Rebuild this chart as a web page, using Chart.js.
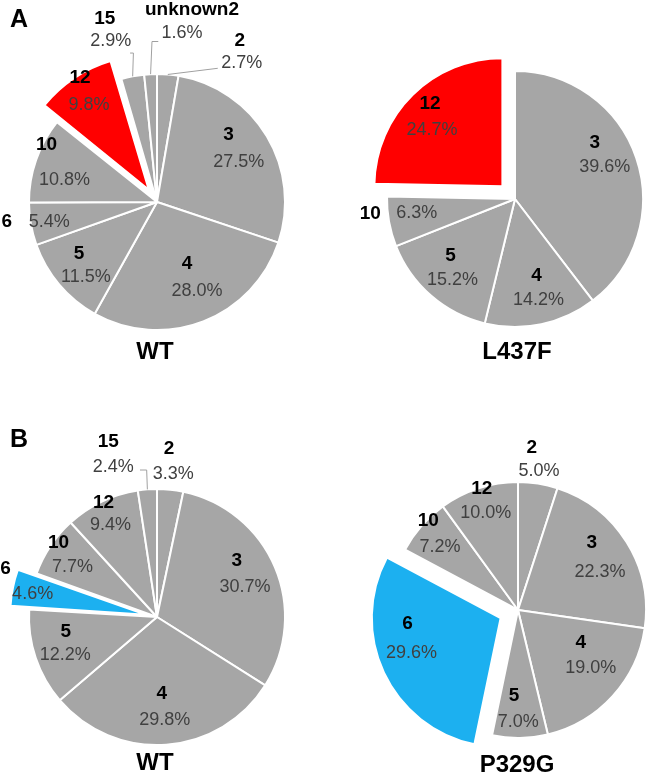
<!DOCTYPE html>
<html>
<head>
<meta charset="utf-8">
<script src="https://cdn.jsdelivr.net/npm/chart.js@4.4.1/dist/chart.umd.min.js"></script>
<style>
  html, body { margin: 0; padding: 0; background: #fff; }
  #wrap { position: relative; width: 647px; height: 778px; overflow: hidden; }
  #wrap canvas { position: absolute; left: 0; top: 0; }
  .panel { position: absolute; font: bold 25px "Liberation Sans", Arial, sans-serif; color: #000; line-height: 1; transform: translate(-50%, -50%); }
</style>
</head>
<body>
<div id="wrap">
  <canvas id="c1" width="647" height="778"></canvas>
  <canvas id="c2" width="647" height="778"></canvas>
  <canvas id="c3" width="647" height="778"></canvas>
  <canvas id="c4" width="647" height="778"></canvas>
  <div class="panel" style="left:19px; top:18px;">A</div>
  <div class="panel" style="left:19px; top:438px;">B</div>
</div>
<script>
// ---- DATA ----
const aWtLabels  = ['2', '3', '4', '5', '6', '10', '12', '15', 'unknown2'];
const aWtValues  = [2.7, 27.5, 28.0, 11.5, 5.4, 10.8, 9.8, 2.9, 1.6];
const aMutLabels = ['3', '4', '5', '10', '12'];
const aMutValues = [39.6, 14.2, 15.2, 6.3, 24.7];
const bWtLabels  = ['2', '3', '4', '5', '6', '10', '12', '15'];
const bWtValues  = [3.3, 30.7, 29.8, 12.2, 4.6, 7.7, 9.4, 2.4];
const bMutLabels = ['2', '3', '4', '5', '6', '10', '12'];
const bMutValues = [5.0, 22.3, 19.0, 7.0, 29.6, 7.2, 10.0];
const chartTitles = ['WT', 'L437F', 'WT', 'P329G'];
const highlightA = '12';
const highlightB = '6';

// ---- STYLE / LAYOUT ----
const GREY = '#a6a6a6', RED = '#ff0000', BLUE = '#1cb0f0';
const RADIUS = 128;
const FONT = '"Liberation Sans", Arial, sans-serif';

// label offsets [nameDx, nameDy, pctDx, pctDy] relative to slice centroid at 0.625 R
const layoutAWt = [[76,-82,78,-59],[3,-26,13,1],[1,-13,11,14],[-17,0,-10,23],[-71.5,6.5,-29,6],[-35,-31,-17,4],[-32.5,-58,-23.5,-30.5],[-37,-104.5,-31,-82],[39,-112,29,-89]];
const layoutAMut = [[4,-31,14,-6],[5,-1.6,7,23],[-12,-3.6,-10,20.7],[-66,1,-19.6,0],[-29,-38,-27,-12]];
const layoutBWt = [[3.7,-88.4,8,-63.4],[6,-25,14.3,1],[-1,-2.8,2,23],[-15.5,-10.8,-16,12.5],[-73,-32,-46,-7],[-32,-30.3,-18,-6],[-19,-42.5,-12,-20],[-42.7,-95,-37.7,-70.5]];
const layoutBMut = [[1.2,-83.7,8.5,-60.3],[5.8,-25.4,14,4],[3.6,-21.6,13.6,4.4],[-5.3,5.7,-1,31.7],[-38,-20,-34,9.4],[-29.4,-36.7,-17.7,-10.7],[-11.6,-45,-7.6,-20.6]];
// leader lines: slice index -> points relative to percentage label
const leadersAWt = {0: [[-24,5]], 7: [[22.6,11.6],[19.3,11.6]], 8: [[-30,8.4],[-23.7,8.4]]};
const leadersBWt = {7: [[33.4,3.3],[26.7,3.3]]};

const pieLabelPlugin = {
  id: 'pieLabels',
  afterDatasetsDraw(chart, args, opts) {
    const ctx = chart.ctx;
    const meta = chart.getDatasetMeta(0);
    const values = chart.data.datasets[0].data;
    const names = chart.data.labels;
    ctx.save();
    ctx.textAlign = 'center';
    ctx.textBaseline = 'middle';
    meta.data.forEach((arc, i) => {
      const p = arc.getProps(['x', 'y', 'startAngle', 'endAngle', 'outerRadius'], true);
      const mid = (p.startAngle + p.endAngle) / 2;
      const cx = p.x + Math.cos(mid) * p.outerRadius * 0.625;
      const cy = p.y + Math.sin(mid) * p.outerRadius * 0.625;
      const L = opts.layout[i];
      const px = cx + L[2], py = cy + L[3];
      const lead = opts.leaders && opts.leaders[i];
      if (lead) {
        ctx.beginPath();
        ctx.strokeStyle = '#a0a0a0';
        ctx.lineWidth = 1;
        ctx.moveTo(p.x + Math.cos(mid) * p.outerRadius, p.y + Math.sin(mid) * p.outerRadius);
        lead.forEach(q => ctx.lineTo(px + q[0], py + q[1]));
        ctx.stroke();
      }
      ctx.fillStyle = '#000';
      ctx.font = 'bold 19px ' + FONT;
      ctx.fillText(names[i], cx + L[0], cy + L[1]);
      ctx.fillStyle = '#404040';
      ctx.font = '18px ' + FONT;
      ctx.fillText(values[i].toFixed(1) + '%', px, py);
    });
    const a0 = meta.data[0].getProps(['x', 'y'], true);
    ctx.fillStyle = '#000';
    ctx.font = 'bold 24px ' + FONT;
    ctx.fillText(opts.title, a0.x + opts.titleDx, a0.y + opts.titleDy);
    ctx.restore();
  }
};

// Chart.js arc moves by offset/4 * (1 + (1 - sin(circumference))); invert to get a pixel displacement
function explodeOffset(values, i, px) {
  const total = values.reduce((s, v) => s + v, 0);
  const circ = values[i] / total * 2 * Math.PI;
  const fix = 1 - Math.sin(Math.min(Math.PI, circ));
  return 4 * px / (1 + fix);
}

function makePie(id, labels, values, hl, hlColor, explodePx, cx, cy, layout, leaders, title, titleDx, titleDy) {
  const W = 647, H = 778, half = 100;
  return new Chart(document.getElementById(id), {
    type: 'pie',
    data: {
      labels: labels,
      datasets: [{
        data: values,
        backgroundColor: labels.map(l => l === hl ? hlColor : GREY),
        offset: labels.map((l, i) => l === hl ? explodeOffset(values, i, explodePx) : 0),
        borderColor: '#ffffff',
        borderWidth: 2,
        hoverOffset: 0
      }]
    },
    options: {
      responsive: false,
      animation: false,
      events: [],
      radius: RADIUS,
      layout: { padding: { left: cx - half, right: W - cx - half, top: cy - half, bottom: H - cy - half } },
      plugins: {
        legend: { display: false },
        tooltip: { enabled: false },
        pieLabels: { layout: layout, leaders: leaders, title: title, titleDx: titleDx, titleDy: titleDy }
      }
    },
    plugins: [pieLabelPlugin]
  });
}

makePie('c1', aWtLabels, aWtValues, highlightA, RED, 21, 157, 202, layoutAWt, leadersAWt, chartTitles[0], -2, 150);
makePie('c2', aMutLabels, aMutValues, highlightA, RED, 18, 515, 199, layoutAMut, null, chartTitles[1], 2, 153);
makePie('c3', bWtLabels, bWtValues, highlightB, BLUE, 19, 157, 617, layoutBWt, leadersBWt, chartTitles[2], -2, 146);
makePie('c4', bMutLabels, bMutValues, highlightB, BLUE, 20, 518, 610, layoutBMut, null, chartTitles[3], -1, 155);
</script>
</body>
</html>
